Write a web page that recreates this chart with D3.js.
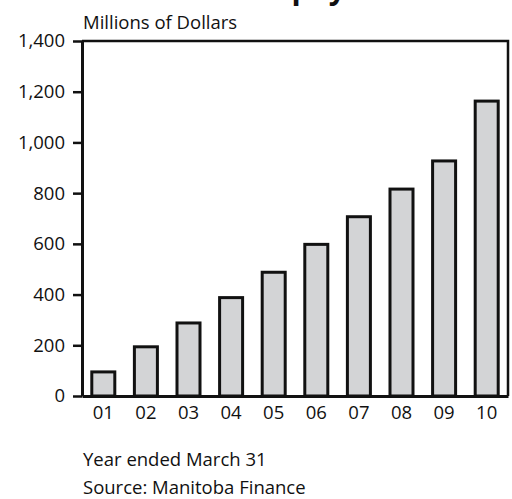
<!DOCTYPE html>
<html>
<head>
<meta charset="utf-8">
<script src="https://cdn.jsdelivr.net/npm/d3@7"></script>
<style>
  body { margin: 0; background: #fff; }
  svg { display: block; }
  text { font-family: "Open Sans", sans-serif; fill: #111; }
</style>
</head>
<body>
<div id="chart"></div>
<script>
// Data
const years = ["01", "02", "03", "04", "05", "06", "07", "08", "09", "10"];
const values = [95, 194, 288, 388, 488, 598, 707, 816, 927, 1163];
const yTicks = [0, 200, 400, 600, 800, 1000, 1200, 1400];

const width = 512, height = 499;
const margin = { left: 82, right: 4, top: 41, bottom: 103 };
const fontSize = "18.5px";

const svg = d3.select("#chart")
    .append("svg")
    .attr("width", width)
    .attr("height", height);

const x = d3.scaleBand()
    .domain(years)
    .range([margin.left, width - margin.right])
    .paddingInner(0.46)
    .paddingOuter(0.23);

const y = d3.scaleLinear()
    .domain([0, 1400])
    .range([height - margin.bottom, margin.top]);

// Title, cut off at the top edge as in the reference
svg.append("text")
    .attr("x", 300)
    .attr("y", -1)
    .attr("text-anchor", "middle")
    .style("font-weight", "bold")
    .style("font-size", "30px")
    .text("Debt Repayment");

// Unit label
svg.append("text")
    .attr("x", margin.left + 1)
    .attr("y", 29)
    .style("font-size", fontSize)
    .text("Millions of Dollars");

// Bars
svg.selectAll(".bar")
    .data(values)
    .enter()
    .append("rect")
    .attr("class", "bar")
    .attr("x", (d, i) => x(years[i]))
    .attr("y", d => y(d))
    .attr("width", x.bandwidth())
    .attr("height", d => y(0) - y(d))
    .style("fill", "#d3d4d6")
    .style("stroke", "#111")
    .style("stroke-width", 3);

// Frame (top and right sides)
svg.append("path")
    .attr("d", `M${margin.left},${y(1400)}H${width - margin.right}V${y(0)}`)
    .style("fill", "none")
    .style("stroke", "#111")
    .style("stroke-width", 2.5);

// Y axis
const yAxis = svg.append("g")
    .attr("transform", `translate(${margin.left},0)`)
    .call(d3.axisLeft(y)
        .tickValues(yTicks)
        .tickFormat(d3.format(","))
        .tickSize(9)
        .tickPadding(8)
        .tickSizeOuter(0));
yAxis.select(".domain").style("stroke", "#111").style("stroke-width", 3);
yAxis.selectAll(".tick line").style("stroke", "#111").style("stroke-width", 2.5);
yAxis.selectAll("text")
    .style("font-size", fontSize)
    .style("font-family", "'Open Sans', sans-serif")
    .attr("fill", "#111");

// X axis
const xAxis = svg.append("g")
    .attr("transform", `translate(0,${y(0)})`)
    .call(d3.axisBottom(x).tickSize(0).tickPadding(10));
xAxis.select(".domain").style("stroke", "#111").style("stroke-width", 3);
xAxis.selectAll("text")
    .style("font-size", fontSize)
    .style("font-family", "'Open Sans', sans-serif")
    .attr("fill", "#111");

// Notes
svg.append("text")
    .attr("x", margin.left + 1)
    .attr("y", 466)
    .style("font-size", fontSize)
    .text("Year ended March 31");

svg.append("text")
    .attr("x", margin.left + 1)
    .attr("y", 494)
    .style("font-size", fontSize)
    .text("Source: Manitoba Finance");
</script>
</body>
</html>
